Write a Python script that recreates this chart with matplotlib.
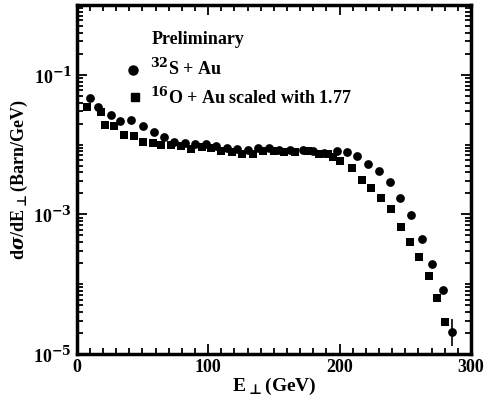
import numpy as np
import matplotlib
matplotlib.use("Agg")
import matplotlib.pyplot as plt
from matplotlib.ticker import FixedLocator, MultipleLocator, LogLocator, NullFormatter

plt.rcParams['font.family'] = ['Liberation Serif', 'DejaVu Serif']
plt.rcParams['mathtext.fontset'] = 'dejavuserif'
plt.rcParams['font.weight'] = 'bold'

# 32S + Au (circles)
s_x = [10, 16.5, 25.7, 33, 41.4, 50.5, 59, 66, 74, 82, 90, 98, 106, 114, 122, 130,
       138, 146, 154, 162, 172, 180, 188, 197.8, 205.4, 213.5, 221.4, 230.3, 238.4,
       246, 254.6, 262.5, 270.6, 278.5, 285.4]
s_y = [4.7e-2, 3.4e-2, 2.65e-2, 2.2e-2, 2.25e-2, 1.87e-2, 1.5e-2, 1.27e-2, 1.1e-2,
       1.05e-2, 1.02e-2, 1.02e-2, 9.5e-3, 8.8e-3, 8.6e-3, 8.5e-3, 8.8e-3, 8.8e-3,
       8.5e-3, 8.5e-3, 8.5e-3, 8.0e-3, 7.6e-3, 8.2e-3, 7.8e-3, 6.96e-3, 5.3e-3,
       4.25e-3, 2.96e-3, 1.71e-3, 9.7e-4, 4.5e-4, 1.93e-4, 8.4e-5, 2.1e-5]
s_err_lo = 0.8e-5
s_err_hi = 1.1e-5

# 16O + Au scaled with 1.77 (squares)
o_x = [7.9, 18.5, 21.1, 28.7, 36.3, 43.9, 50.7, 57.9, 64, 71.8, 79, 87, 95, 102,
       110, 118, 126, 134, 142, 150, 158, 166, 176, 184, 191.4, 194.7, 200.3, 209.7,
       217.1, 223.9, 231.5, 238.9, 246.8, 253.4, 260.7, 267.8, 274.4, 280.3]
o_y = [3.4e-2, 2.96e-2, 1.91e-2, 1.82e-2, 1.37e-2, 1.32e-2, 1.1e-2, 1.06e-2, 1.0e-2,
       9.9e-3, 9.5e-3, 8.7e-3, 9.2e-3, 9.0e-3, 8.2e-3, 7.8e-3, 7.4e-3, 7.4e-3,
       8.0e-3, 8.0e-3, 7.8e-3, 7.8e-3, 8.0e-3, 7.4e-3, 7.4e-3, 6.6e-3, 5.9e-3,
       4.6e-3, 3.16e-3, 2.38e-3, 1.71e-3, 1.2e-3, 6.7e-4, 4.0e-4, 2.45e-4, 1.3e-4,
       6.4e-5, 2.9e-5]

x_ticks = [0, 100, 200, 300]
x_labels = ['0', '100', '200', '300']
y_ticks = [1e-5, 1e-3, 1e-1]
y_labels = [r'10$^{-5}$', r'10$^{-3}$', r'10$^{-1}$']

fig = plt.figure(figsize=(4.86, 4.08), dpi=100)
ax = fig.add_axes([0.158, 0.132, 0.811, 0.856])

ax.plot(s_x, s_y, 'o', color='black', markersize=6.3, markeredgewidth=0)
ax.plot(o_x, o_y, 's', color='black', markersize=5.5, markeredgewidth=0)
ax.errorbar([s_x[-1]], [s_y[-1]], yerr=[[s_err_lo], [s_err_hi]], fmt='none',
            ecolor='black', elinewidth=1.2, capsize=0)

ax.set_yscale('log')
ax.set_xlim(0, 300)
ax.set_ylim(1e-5, 1)

ax.xaxis.set_major_locator(FixedLocator(x_ticks))
ax.set_xticklabels(x_labels)
ax.xaxis.set_minor_locator(MultipleLocator(10))
ax.yaxis.set_major_locator(FixedLocator(y_ticks))
ax.set_yticklabels(y_labels)
ax.yaxis.set_minor_locator(LogLocator(base=10, subs=np.arange(1, 10), numticks=20))
ax.yaxis.set_minor_formatter(NullFormatter())

ax.tick_params(which='both', direction='in', top=True, right=True, width=1.3,
               labelsize=13)
ax.tick_params(which='major', length=7)
ax.tick_params(which='minor', length=4)
for sp in ax.spines.values():
    sp.set_linewidth(2.5)

ax.set_xlabel(r'E$_\bot$(GeV)', fontsize=14, fontweight='bold', labelpad=0)
ax.set_ylabel(r'd$\sigma$/dE$_\bot$(Barn/GeV)', fontsize=13, fontweight='bold',
              labelpad=2)

# legend drawn by hand, like the original figure
ax.text(0.19, 0.90, 'Preliminary', transform=ax.transAxes, fontsize=13,
        fontweight='bold', va='center')
ax.plot([0.142], [0.815], 'o', color='black', markersize=6.5, transform=ax.transAxes)
ax.text(0.185, 0.818, r'$^{32}$S + Au', transform=ax.transAxes, fontsize=13,
        fontweight='bold', va='center')
ax.plot([0.147], [0.737], 's', color='black', markersize=6, transform=ax.transAxes)
ax.text(0.185, 0.737, r'$^{16}$O + Au scaled with 1.77', transform=ax.transAxes,
        fontsize=13, fontweight='bold', va='center')

fig.savefig('out.png', dpi=100)
